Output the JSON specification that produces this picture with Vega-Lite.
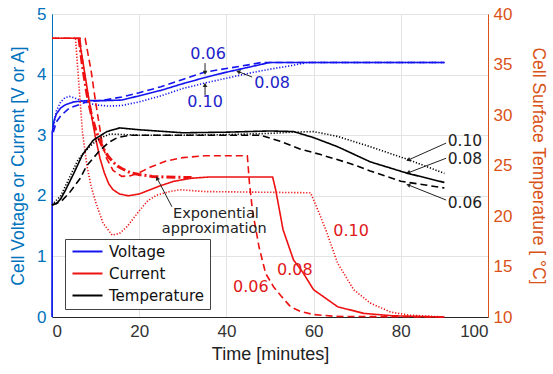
{
  "$schema": "https://vega.github.io/schema/vega-lite/v6.json",
  "width": 436,
  "height": 303,
  "autosize": {"type": "none"},
  "padding": {"left": 52, "top": 14, "right": 65, "bottom": 57},
  "background": "white",
  "config": {
    "view": {"stroke": "#262626", "strokeWidth": 1},
    "axis": {"labelFont": "Liberation Sans", "titleFont": "Liberation Sans", "labelFontSize": 17, "titleFontSize": 17.5, "titleFontWeight": "normal", "gridColor": "#e3e3e3", "ticks": false},
    "legend": {"orient": "none", "legendX": 13, "legendY": 225, "fillColor": "white", "strokeColor": "#444", "padding": 5, "labelFont": "DejaVu Sans", "labelFontSize": 15, "labelColor": "#111", "symbolType": "M-1,0L5,0", "symbolSize": 100, "symbolStrokeWidth": 2, "rowPadding": 6, "labelOffset": 24}
  },
  "datasets": {
    "curves": [
      {"s":"Voltage","r":"0.08","t":0,"y":0},{"s":"Voltage","r":"0.08","t":0.05,"y":3.05},{"s":"Voltage","r":"0.08","t":0.5,"y":3.25},{"s":"Voltage","r":"0.08","t":1,"y":3.35},{"s":"Voltage","r":"0.08","t":2,"y":3.45},{"s":"Voltage","r":"0.08","t":3,"y":3.5},{"s":"Voltage","r":"0.08","t":5,"y":3.55},{"s":"Voltage","r":"0.08","t":8,"y":3.57},{"s":"Voltage","r":"0.08","t":12,"y":3.57},{"s":"Voltage","r":"0.08","t":16,"y":3.58},{"s":"Voltage","r":"0.08","t":20,"y":3.65},{"s":"Voltage","r":"0.08","t":25,"y":3.74},{"s":"Voltage","r":"0.08","t":30,"y":3.85},{"s":"Voltage","r":"0.08","t":35,"y":3.95},{"s":"Voltage","r":"0.08","t":40,"y":4.04},{"s":"Voltage","r":"0.08","t":45,"y":4.12},{"s":"Voltage","r":"0.08","t":50,"y":4.2},{"s":"Voltage","r":"0.08","t":90,"y":4.2},
      {"s":"Voltage","r":"0.06","t":0.3,"y":3.05},{"s":"Voltage","r":"0.06","t":1,"y":3.22},{"s":"Voltage","r":"0.06","t":2,"y":3.32},{"s":"Voltage","r":"0.06","t":4,"y":3.45},{"s":"Voltage","r":"0.06","t":6,"y":3.5},{"s":"Voltage","r":"0.06","t":8,"y":3.55},{"s":"Voltage","r":"0.06","t":12,"y":3.58},{"s":"Voltage","r":"0.06","t":16,"y":3.63},{"s":"Voltage","r":"0.06","t":20,"y":3.7},{"s":"Voltage","r":"0.06","t":25,"y":3.8},{"s":"Voltage","r":"0.06","t":30,"y":3.92},{"s":"Voltage","r":"0.06","t":35,"y":4.04},{"s":"Voltage","r":"0.06","t":40,"y":4.1},{"s":"Voltage","r":"0.06","t":45,"y":4.16},{"s":"Voltage","r":"0.06","t":48,"y":4.2},{"s":"Voltage","r":"0.06","t":90,"y":4.2},
      {"s":"Voltage","r":"0.10","t":0.3,"y":3.1},{"s":"Voltage","r":"0.10","t":1,"y":3.4},{"s":"Voltage","r":"0.10","t":2,"y":3.55},{"s":"Voltage","r":"0.10","t":3,"y":3.62},{"s":"Voltage","r":"0.10","t":4,"y":3.64},{"s":"Voltage","r":"0.10","t":5,"y":3.62},{"s":"Voltage","r":"0.10","t":7,"y":3.56},{"s":"Voltage","r":"0.10","t":10,"y":3.5},{"s":"Voltage","r":"0.10","t":13,"y":3.48},{"s":"Voltage","r":"0.10","t":16,"y":3.49},{"s":"Voltage","r":"0.10","t":20,"y":3.55},{"s":"Voltage","r":"0.10","t":25,"y":3.65},{"s":"Voltage","r":"0.10","t":30,"y":3.77},{"s":"Voltage","r":"0.10","t":35,"y":3.86},{"s":"Voltage","r":"0.10","t":40,"y":3.94},{"s":"Voltage","r":"0.10","t":45,"y":4.02},{"s":"Voltage","r":"0.10","t":50,"y":4.09},{"s":"Voltage","r":"0.10","t":55,"y":4.15},{"s":"Voltage","r":"0.10","t":58.6,"y":4.2},{"s":"Voltage","r":"0.10","t":90,"y":4.2},
      {"s":"Current","r":"0.08","t":0,"y":4.6},{"s":"Current","r":"0.08","t":6.2,"y":4.6},{"s":"Current","r":"0.08","t":7,"y":4.25},{"s":"Current","r":"0.08","t":8,"y":3.8},{"s":"Current","r":"0.08","t":9,"y":3.35},{"s":"Current","r":"0.08","t":10,"y":2.95},{"s":"Current","r":"0.08","t":11,"y":2.62},{"s":"Current","r":"0.08","t":12,"y":2.38},{"s":"Current","r":"0.08","t":13,"y":2.2},{"s":"Current","r":"0.08","t":14,"y":2.1},{"s":"Current","r":"0.08","t":15.5,"y":2.03},{"s":"Current","r":"0.08","t":17.5,"y":2.0},{"s":"Current","r":"0.08","t":20,"y":2.03},{"s":"Current","r":"0.08","t":22.5,"y":2.1},{"s":"Current","r":"0.08","t":25,"y":2.17},{"s":"Current","r":"0.08","t":28,"y":2.24},{"s":"Current","r":"0.08","t":32,"y":2.29},{"s":"Current","r":"0.08","t":36,"y":2.31},{"s":"Current","r":"0.08","t":50.6,"y":2.31},{"s":"Current","r":"0.08","t":51.3,"y":2.1},{"s":"Current","r":"0.08","t":53,"y":1.44},{"s":"Current","r":"0.08","t":55.4,"y":0.94},{"s":"Current","r":"0.08","t":57.5,"y":0.74},{"s":"Current","r":"0.08","t":60,"y":0.45},{"s":"Current","r":"0.08","t":65.5,"y":0.17},{"s":"Current","r":"0.08","t":71.5,"y":0.06},{"s":"Current","r":"0.08","t":78,"y":0.02},{"s":"Current","r":"0.08","t":90,"y":0},
      {"s":"Current","r":"0.06","t":0,"y":4.6},{"s":"Current","r":"0.06","t":7.6,"y":4.6},{"s":"Current","r":"0.06","t":9,"y":4.05},{"s":"Current","r":"0.06","t":10,"y":3.55},{"s":"Current","r":"0.06","t":11.5,"y":2.87},{"s":"Current","r":"0.06","t":12.5,"y":2.62},{"s":"Current","r":"0.06","t":14,"y":2.42},{"s":"Current","r":"0.06","t":16,"y":2.32},{"s":"Current","r":"0.06","t":18,"y":2.33},{"s":"Current","r":"0.06","t":20,"y":2.38},{"s":"Current","r":"0.06","t":22.5,"y":2.47},{"s":"Current","r":"0.06","t":26,"y":2.57},{"s":"Current","r":"0.06","t":30,"y":2.63},{"s":"Current","r":"0.06","t":35,"y":2.66},{"s":"Current","r":"0.06","t":44.8,"y":2.66},{"s":"Current","r":"0.06","t":45.3,"y":2.2},{"s":"Current","r":"0.06","t":46,"y":1.75},{"s":"Current","r":"0.06","t":47.5,"y":1.15},{"s":"Current","r":"0.06","t":49,"y":0.72},{"s":"Current","r":"0.06","t":50.8,"y":0.5},{"s":"Current","r":"0.06","t":52.5,"y":0.35},{"s":"Current","r":"0.06","t":54.7,"y":0.17},{"s":"Current","r":"0.06","t":57,"y":0.09},{"s":"Current","r":"0.06","t":60,"y":0.04},{"s":"Current","r":"0.06","t":65,"y":0.01},{"s":"Current","r":"0.06","t":90,"y":0},
      {"s":"Current","r":"0.10","t":0,"y":4.6},{"s":"Current","r":"0.10","t":5.4,"y":4.6},{"s":"Current","r":"0.10","t":6.2,"y":3.8},{"s":"Current","r":"0.10","t":7,"y":3.05},{"s":"Current","r":"0.10","t":8,"y":2.5},{"s":"Current","r":"0.10","t":9,"y":2.15},{"s":"Current","r":"0.10","t":10,"y":1.9},{"s":"Current","r":"0.10","t":11.7,"y":1.55},{"s":"Current","r":"0.10","t":13.8,"y":1.35},{"s":"Current","r":"0.10","t":15.5,"y":1.38},{"s":"Current","r":"0.10","t":17.2,"y":1.49},{"s":"Current","r":"0.10","t":20.2,"y":1.77},{"s":"Current","r":"0.10","t":22,"y":1.92},{"s":"Current","r":"0.10","t":24,"y":2.01},{"s":"Current","r":"0.10","t":27,"y":2.07},{"s":"Current","r":"0.10","t":29.4,"y":2.1},{"s":"Current","r":"0.10","t":35,"y":2.07},{"s":"Current","r":"0.10","t":59.3,"y":2.05},{"s":"Current","r":"0.10","t":60.5,"y":1.85},{"s":"Current","r":"0.10","t":62.8,"y":1.44},{"s":"Current","r":"0.10","t":65.5,"y":0.89},{"s":"Current","r":"0.10","t":69.2,"y":0.45},{"s":"Current","r":"0.10","t":73,"y":0.23},{"s":"Current","r":"0.10","t":77.7,"y":0.08},{"s":"Current","r":"0.10","t":82,"y":0.03},{"s":"Current","r":"0.10","t":90,"y":0}
    ],
    "approx": [
      {"t":6.2,"y":4.6},{"t":7,"y":4.14},{"t":8,"y":3.69},{"t":9,"y":3.35},{"t":10,"y":3.09},{"t":11,"y":2.9},{"t":12,"y":2.75},{"t":13,"y":2.64},{"t":14,"y":2.56},{"t":15,"y":2.49},{"t":16,"y":2.45},{"t":18,"y":2.38},{"t":20,"y":2.35},{"t":23,"y":2.32},{"t":26,"y":2.31},{"t":32,"y":2.3}
    ],
    "temp": [
      {"s":"Temperature","r":"0.08","t":0,"y":21.1},{"s":"Temperature","r":"0.08","t":1,"y":21.22},{"s":"Temperature","r":"0.08","t":2,"y":21.7},{"s":"Temperature","r":"0.08","t":3,"y":22.48},{"s":"Temperature","r":"0.08","t":5,"y":24.22},{"s":"Temperature","r":"0.08","t":7,"y":26.08},{"s":"Temperature","r":"0.08","t":9.5,"y":27.52},{"s":"Temperature","r":"0.08","t":12.6,"y":28.36},{"s":"Temperature","r":"0.08","t":15.5,"y":28.72},{"s":"Temperature","r":"0.08","t":20,"y":28.54},{"s":"Temperature","r":"0.08","t":30,"y":28.24},{"s":"Temperature","r":"0.08","t":40,"y":28.3},{"s":"Temperature","r":"0.08","t":50,"y":28.42},{"s":"Temperature","r":"0.08","t":55.4,"y":28.36},{"s":"Temperature","r":"0.08","t":60,"y":27.76},{"s":"Temperature","r":"0.08","t":65.5,"y":26.86},{"s":"Temperature","r":"0.08","t":73,"y":25.36},{"s":"Temperature","r":"0.08","t":81.6,"y":24.22},{"s":"Temperature","r":"0.08","t":90,"y":23.32},
      {"s":"Temperature","r":"0.10","t":0,"y":21.1},{"s":"Temperature","r":"0.10","t":2,"y":22.0},{"s":"Temperature","r":"0.10","t":4,"y":23.8},{"s":"Temperature","r":"0.10","t":6,"y":25.6},{"s":"Temperature","r":"0.10","t":8.7,"y":26.92},{"s":"Temperature","r":"0.10","t":11,"y":27.7},{"s":"Temperature","r":"0.10","t":13.3,"y":28.12},{"s":"Temperature","r":"0.10","t":20,"y":28.0},{"s":"Temperature","r":"0.10","t":30,"y":28.0},{"s":"Temperature","r":"0.10","t":40,"y":28.06},{"s":"Temperature","r":"0.10","t":50,"y":28.18},{"s":"Temperature","r":"0.10","t":55,"y":28.3},{"s":"Temperature","r":"0.10","t":60,"y":28.36},{"s":"Temperature","r":"0.10","t":65.5,"y":27.88},{"s":"Temperature","r":"0.10","t":73,"y":26.86},{"s":"Temperature","r":"0.10","t":82,"y":25.54},{"s":"Temperature","r":"0.10","t":90,"y":24.22},
      {"s":"Temperature","r":"0.06","t":0,"y":21.1},{"s":"Temperature","r":"0.06","t":2,"y":21.4},{"s":"Temperature","r":"0.06","t":4,"y":22.3},{"s":"Temperature","r":"0.06","t":6.4,"y":23.68},{"s":"Temperature","r":"0.06","t":8,"y":25.0},{"s":"Temperature","r":"0.06","t":11,"y":26.5},{"s":"Temperature","r":"0.06","t":13,"y":27.28},{"s":"Temperature","r":"0.06","t":15,"y":27.76},{"s":"Temperature","r":"0.06","t":18,"y":28.0},{"s":"Temperature","r":"0.06","t":30,"y":28.0},{"s":"Temperature","r":"0.06","t":47.8,"y":28.0},{"s":"Temperature","r":"0.06","t":52.4,"y":27.4},{"s":"Temperature","r":"0.06","t":57,"y":26.62},{"s":"Temperature","r":"0.06","t":61.6,"y":26.08},{"s":"Temperature","r":"0.06","t":68.5,"y":25.18},{"s":"Temperature","r":"0.06","t":73,"y":24.46},{"s":"Temperature","r":"0.06","t":80,"y":23.44},{"s":"Temperature","r":"0.06","t":90,"y":22.78}
    ],
    "labels": [
      {"g":"blue","t":35.8,"y":4.34,"text":"0.06"},{"g":"blue","t":50.5,"y":3.86,"text":"0.08"},{"g":"blue","t":35.1,"y":3.55,"text":"0.10"},
      {"g":"black","t":94.7,"y":2.91,"text":"0.10"},{"g":"black","t":94.7,"y":2.6,"text":"0.08"},{"g":"black","t":94.7,"y":1.88,"text":"0.06"},
      {"g":"exp","t":37.6,"y":1.7,"text":"Exponential"},{"g":"exp","t":37.2,"y":1.45,"text":"approximation"},
      {"g":"red","t":45.6,"y":0.5,"text":"0.06"},{"g":"red","t":55.7,"y":0.78,"text":"0.08"},{"g":"red","t":68.6,"y":1.42,"text":"0.10"}
    ],
    "arrows": [
      {"k":"a1","t":35.1,"y":4.19,"t2":35.1,"y2":4.03},
      {"k":"a2","t":35.1,"y":3.66,"t2":35.1,"y2":3.83},
      {"k":"a3","t":45.9,"y":3.96,"t2":42.7,"y2":4.05},
      {"k":"a4","t":90.4,"y":2.87,"t2":81.7,"y2":2.59},
      {"k":"a5","t":90.4,"y":2.62,"t2":81.7,"y2":2.38},
      {"k":"a6","t":90.4,"y":1.93,"t2":81.7,"y2":2.18},
      {"k":"a7","t":27.5,"y":1.82,"t2":24.1,"y2":2.29}
    ]
  },
  "layer": [
    {
      "layer": [
        {
          "data": {"name": "curves"},
          "mark": {"type": "line", "strokeWidth": 1.6},
          "encoding": {
            "x": {"field": "t", "type": "quantitative", "scale": {"domain": [0, 100]},
                  "axis": {"title": "Time [minutes]", "values": [0,20,40,60,80,100], "labelColor": "#333", "titleColor": "#222", "domainColor": "#262626", "labelPadding": 6, "titlePadding": 6, "titleFontSize": 18}},
            "y": {"field": "y", "type": "quantitative", "scale": {"domain": [0, 5]},
                  "axis": {"orient": "left", "title": "Cell Voltage or Current [V or A]", "values": [0,1,2,3,4,5], "format": "d", "labelColor": "#0072BD", "titleColor": "#0072BD", "domainColor": "#0072BD", "labelPadding": 6, "titlePadding": 9}},
            "color": {"field": "s", "type": "nominal", "scale": {"domain": ["Voltage","Current","Temperature"], "range": ["#1414f0","#ee1111","#000000"]}, "legend": {"title": null}},
            "strokeDash": {"field": "r", "type": "nominal", "scale": {"domain": ["0.06","0.08","0.10"], "range": [[7,4],[1,0],[1.2,1.8]]}, "legend": null}
          }
        },
        {
          "data": {"name": "approx"},
          "mark": {"type": "line", "color": "#ee1111", "strokeWidth": 3, "strokeDash": [9,3,2,3]},
          "encoding": {
            "x": {"field": "t", "type": "quantitative"},
            "y": {"field": "y", "type": "quantitative"}
          }
        },
        {
          "data": {"name": "arrows"},
          "mark": {"type": "rule", "color": "#222", "strokeWidth": 1},
          "encoding": {
            "x": {"field": "t", "type": "quantitative"},
            "y": {"field": "y", "type": "quantitative"},
            "x2": {"field": "t2"},
            "y2": {"field": "y2"}
          }
        },
        {
          "data": {"name": "arrows"},
          "transform": [{"filter": {"field": "k", "equal": "a1"}}],
          "mark": {"type": "point", "shape": "triangle-up", "filled": true, "color": "#222", "size": 22, "angle": 180, "opacity": 1},
          "encoding": {"x": {"field": "t2", "type": "quantitative"}, "y": {"field": "y2", "type": "quantitative"}}
        },
        {
          "data": {"name": "arrows"},
          "transform": [{"filter": {"field": "k", "equal": "a2"}}],
          "mark": {"type": "point", "shape": "triangle-up", "filled": true, "color": "#222", "size": 22, "angle": 0, "opacity": 1},
          "encoding": {"x": {"field": "t2", "type": "quantitative"}, "y": {"field": "y2", "type": "quantitative"}}
        },
        {
          "data": {"name": "arrows"},
          "transform": [{"filter": {"field": "k", "oneOf": ["a3","a6"]}}],
          "mark": {"type": "point", "shape": "triangle-up", "filled": true, "color": "#222", "size": 22, "angle": 290, "opacity": 1},
          "encoding": {"x": {"field": "t2", "type": "quantitative"}, "y": {"field": "y2", "type": "quantitative"}}
        },
        {
          "data": {"name": "arrows"},
          "transform": [{"filter": {"field": "k", "oneOf": ["a4","a5"]}}],
          "mark": {"type": "point", "shape": "triangle-up", "filled": true, "color": "#222", "size": 22, "angle": 247, "opacity": 1},
          "encoding": {"x": {"field": "t2", "type": "quantitative"}, "y": {"field": "y2", "type": "quantitative"}}
        },
        {
          "data": {"name": "arrows"},
          "transform": [{"filter": {"field": "k", "equal": "a7"}}],
          "mark": {"type": "point", "shape": "triangle-up", "filled": true, "color": "#222", "size": 22, "angle": 333, "opacity": 1},
          "encoding": {"x": {"field": "t2", "type": "quantitative"}, "y": {"field": "y2", "type": "quantitative"}}
        },
        {
          "data": {"name": "labels"},
          "transform": [{"filter": {"field": "g", "equal": "blue"}}],
          "mark": {"type": "text", "font": "DejaVu Sans", "fontSize": 16, "color": "#2323c8", "align": "center", "baseline": "middle"},
          "encoding": {"x": {"field": "t", "type": "quantitative"}, "y": {"field": "y", "type": "quantitative"}, "text": {"field": "text"}}
        },
        {
          "data": {"name": "labels"},
          "transform": [{"filter": {"field": "g", "equal": "black"}}],
          "mark": {"type": "text", "font": "DejaVu Sans", "fontSize": 15.5, "color": "#222", "align": "center", "baseline": "middle"},
          "encoding": {"x": {"field": "t", "type": "quantitative"}, "y": {"field": "y", "type": "quantitative"}, "text": {"field": "text"}}
        },
        {
          "data": {"name": "labels"},
          "transform": [{"filter": {"field": "g", "equal": "exp"}}],
          "mark": {"type": "text", "font": "DejaVu Sans", "fontSize": 14.5, "color": "#222", "align": "center", "baseline": "middle"},
          "encoding": {"x": {"field": "t", "type": "quantitative"}, "y": {"field": "y", "type": "quantitative"}, "text": {"field": "text"}}
        },
        {
          "data": {"name": "labels"},
          "transform": [{"filter": {"field": "g", "equal": "red"}}],
          "mark": {"type": "text", "font": "DejaVu Sans", "fontSize": 16, "color": "#e01818", "align": "center", "baseline": "middle"},
          "encoding": {"x": {"field": "t", "type": "quantitative"}, "y": {"field": "y", "type": "quantitative"}, "text": {"field": "text"}}
        }
      ]
    },
    {
      "data": {"name": "temp"},
      "mark": {"type": "line", "strokeWidth": 1.6},
      "encoding": {
        "x": {"field": "t", "type": "quantitative"},
        "y": {"field": "y", "type": "quantitative", "scale": {"domain": [10, 40]},
              "axis": {"orient": "right", "title": "Cell Surface Temperature [ °C]", "values": [10,15,20,25,30,35,40], "grid": false, "labelColor": "#D95319", "titleColor": "#D95319", "domainColor": "#D95319", "labelPadding": 5, "titlePadding": 17}},
        "color": {"field": "s", "type": "nominal", "legend": {"title": null}},
        "strokeDash": {"field": "r", "type": "nominal", "legend": null}
      }
    }
  ],
  "resolve": {"scale": {"y": "independent"}}
}
